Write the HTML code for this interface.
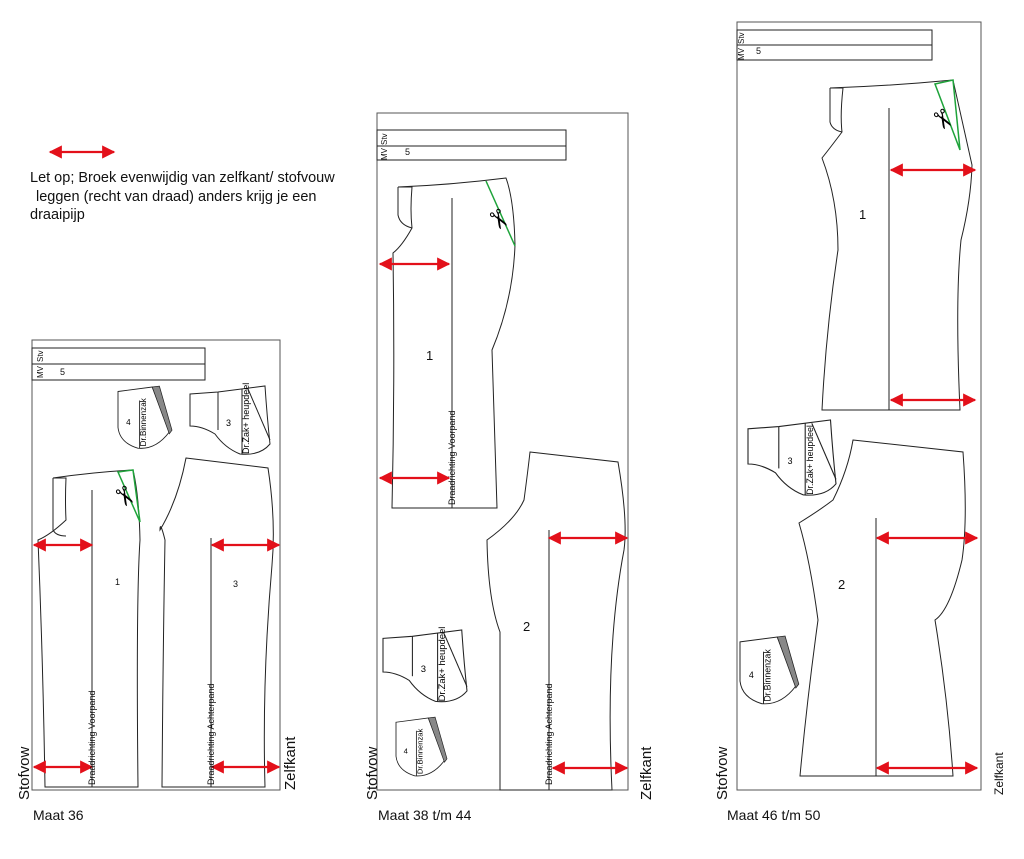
<!DOCTYPE html>
<html><head><meta charset="utf-8"><style>
html,body{margin:0;padding:0;background:#fff;}
svg{display:block;font-family:"Liberation Sans",sans-serif;}
</style></head><body>
<svg width="1024" height="859" viewBox="0 0 1024 859" xmlns="http://www.w3.org/2000/svg">
<defs>
<marker id="ah" viewBox="0 0 10 10" refX="9" refY="5" markerWidth="6" markerHeight="6" orient="auto-start-reverse"><path d="M0,0 L10,5 L0,10 Z" fill="#e3101a"/></marker>
</defs>
<line x1="50" y1="152" x2="114" y2="152" stroke="#e3101a" stroke-width="2.2" marker-start="url(#ah)" marker-end="url(#ah)"/>
<g font-size="14.5" fill="#111">
<text x="30" y="182">Let op; Broek evenwijdig van zelfkant/ stofvouw</text>
<text x="36" y="201">leggen (recht van draad) anders krijg je een</text>
<text x="30" y="219">draaipijp</text>
</g>

<!-- PANEL 1 -->
<g stroke="#222" stroke-width="1" fill="none">
<rect x="32" y="340" width="248" height="450" stroke="#555"/>
<rect x="32" y="348" width="173" height="16"/>
<rect x="32" y="364" width="173" height="16"/>
<path d="M53,478 L66,478 Q65,500 66,520 Q50,535 38,540 Q43,660 45,787 L138,787 Q136,600 140,540 Q139,495 133,470 Q95,472 53,478 Z"/>
<path d="M53,478 L53,530 Q56,536 66,536"/>
<line x1="92" y1="490" x2="92" y2="787"/>
<path d="M186,458 L268,468 Q276,520 272,565 Q262,680 265,787 L162,787 Q163,650 165,540 Q160,520 160,530 Q178,500 186,458 Z"/>
<line x1="211" y1="538" x2="211" y2="787"/>
</g>
<path d="M118,472 L133,470 L140,522 Z" fill="none" stroke="#1ea33a" stroke-width="1.5"/>
<text x="114" y="507" font-size="26" font-family="DejaVu Sans" transform="rotate(60 126 497)">✂</text>

<!-- PANEL 2 -->
<g stroke="#222" stroke-width="1" fill="none">
<rect x="377" y="113" width="251" height="677" stroke="#555"/>
<rect x="377" y="130" width="189" height="16"/>
<rect x="377" y="146" width="189" height="14"/>
<path d="M398,187 L412,187 Q410,210 412,228 Q402,246 393,253 Q395,380 392,508 L497,508 L492,350 Q513,300 515,245 Q514,200 506,178 Q450,185 398,187 Z"/>
<path d="M398,187 L398,215 Q400,225 412,228"/>
<line x1="452" y1="198" x2="452" y2="508"/>
<path d="M530,452 L618,462 Q628,520 624,550 Q605,650 612,790 L500,790 L500,632 Q488,600 487,540 Q515,520 524,500 Q528,470 530,452 Z"/>
<line x1="549" y1="530" x2="549" y2="790"/>
</g>
<line x1="486" y1="181" x2="515" y2="246" stroke="#1ea33a" stroke-width="1.5"/>
<text x="488" y="230" font-size="26" font-family="DejaVu Sans" transform="rotate(60 500 220)">✂</text>

<!-- PANEL 3 -->
<g stroke="#222" stroke-width="1" fill="none">
<rect x="737" y="22" width="244" height="768" stroke="#555"/>
<rect x="737" y="30" width="195" height="15"/>
<rect x="737" y="45" width="195" height="15"/>
<path d="M830,88 L843,88 Q840,115 842,132 Q830,148 822,158 Q838,200 838,250 Q826,330 822,410 L960,410 Q955,300 961,240 Q971,200 972,165 Q962,120 953,80 Q890,86 830,88 Z"/>
<path d="M830,88 L830,122 Q832,130 842,132"/>
<line x1="889" y1="108" x2="889" y2="410"/>
<path d="M853,440 L963,452 Q968,520 962,560 Q950,610 935,620 Q948,700 953,776 L800,776 Q807,700 818,620 Q810,560 799,523 Q820,510 833,500 Q848,470 853,440 Z"/>
<line x1="876" y1="518" x2="876" y2="776"/>
</g>
<path d="M935,84 L953,80 L960,150 Z" fill="none" stroke="#1ea33a" stroke-width="1.5"/>
<text x="932" y="130" font-size="26" font-family="DejaVu Sans" transform="rotate(60 944 120)">✂</text>

<!-- small pieces: 4 -->
<g transform="translate(118,387) scale(0.9)">
<path d="M0,5 L38,0 L57,50 Q42,70 22,68 Q2,62 0,45 Z" fill="#fff" stroke="#222"/>
<path d="M38,0 L46,-1 L60,48 L57,52 Z" fill="#888" stroke="#222" stroke-width="0.8"/>
<line x1="24" y1="15" x2="24" y2="68" stroke="#222"/>
<text x="9" y="42" font-size="9">4</text>
<text transform="translate(31,66) rotate(-90)" font-size="9">Dr.Binnenzak</text>
</g>
<g transform="translate(396,718) scale(0.85)">
<path d="M0,5 L38,0 L57,50 Q42,70 22,68 Q2,62 0,45 Z" fill="#fff" stroke="#222"/>
<path d="M38,0 L46,-1 L60,48 L57,52 Z" fill="#888" stroke="#222" stroke-width="0.8"/>
<line x1="24" y1="15" x2="24" y2="68" stroke="#222"/>
<text x="9" y="42" font-size="9">4</text>
<text transform="translate(31,66) rotate(-90)" font-size="9">Dr.Binnenzak</text>
</g>
<g transform="translate(740,637) scale(0.98)">
<path d="M0,5 L38,0 L57,50 Q42,70 22,68 Q2,62 0,45 Z" fill="#fff" stroke="#222"/>
<path d="M38,0 L46,-1 L60,48 L57,52 Z" fill="#888" stroke="#222" stroke-width="0.8"/>
<line x1="24" y1="15" x2="24" y2="68" stroke="#222"/>
<text x="9" y="42" font-size="9">4</text>
<text transform="translate(31,66) rotate(-90)" font-size="9">Dr.Binnenzak</text>
</g>
<!-- small pieces: 3 -->
<g transform="translate(190,386)">
<path d="M0,8 L28,6 L75,0 Q77,30 80,58 Q70,70 50,68 Q35,62 25,48 Q12,40 0,40 Z" fill="#fff" stroke="#222"/>
<line x1="28" y1="6" x2="28" y2="44" stroke="#222"/>
<line x1="58" y1="3" x2="80" y2="54" stroke="#222"/>
<line x1="52" y1="3" x2="52" y2="68" stroke="#222"/>
<text x="36" y="40" font-size="9">3</text>
<text transform="translate(59,68) rotate(-90)" font-size="9">Dr.Zak+ heupdeel</text>
</g>
<g transform="translate(383,630) scale(1.05)">
<path d="M0,8 L28,6 L75,0 Q77,30 80,58 Q70,70 50,68 Q35,62 25,48 Q12,40 0,40 Z" fill="#fff" stroke="#222"/>
<line x1="28" y1="6" x2="28" y2="44" stroke="#222"/>
<line x1="58" y1="3" x2="80" y2="54" stroke="#222"/>
<line x1="52" y1="3" x2="52" y2="68" stroke="#222"/>
<text x="36" y="40" font-size="9">3</text>
<text transform="translate(59,68) rotate(-90)" font-size="9">Dr.Zak+ heupdeel</text>
</g>
<g transform="translate(748,420) scale(1.1)">
<path d="M0,8 L28,6 L75,0 Q77,30 80,58 Q70,70 50,68 Q35,62 25,48 Q12,40 0,40 Z" fill="#fff" stroke="#222"/>
<line x1="28" y1="6" x2="28" y2="44" stroke="#222"/>
<line x1="58" y1="3" x2="80" y2="54" stroke="#222"/>
<line x1="52" y1="3" x2="52" y2="68" stroke="#222"/>
<text x="36" y="40" font-size="8">3</text>
<text transform="translate(59,68) rotate(-90)" font-size="8">Dr.Zak+ heupdeel</text>
</g>

<!-- arrows -->
<g stroke="#e3101a" stroke-width="2.2" marker-start="url(#ah)" marker-end="url(#ah)">
<line x1="34" y1="545" x2="92" y2="545"/>
<line x1="212" y1="545" x2="279" y2="545"/>
<line x1="34" y1="767" x2="92" y2="767"/>
<line x1="212" y1="767" x2="279" y2="767"/>
<line x1="380" y1="264" x2="449" y2="264"/>
<line x1="380" y1="478" x2="449" y2="478"/>
<line x1="549" y1="538" x2="627" y2="538"/>
<line x1="553" y1="768" x2="627" y2="768"/>
<line x1="891" y1="170" x2="975" y2="170"/>
<line x1="891" y1="400" x2="975" y2="400"/>
<line x1="877" y1="538" x2="977" y2="538"/>
<line x1="877" y1="768" x2="977" y2="768"/>
</g>

<!-- labels -->
<g fill="#111">
<text transform="translate(43,378) rotate(-90)" font-size="8">MV</text>
<text transform="translate(43,362) rotate(-90)" font-size="8">Stv</text>
<text x="60" y="375" font-size="9">5</text>
<text transform="translate(387,160) rotate(-90)" font-size="8">MV</text>
<text transform="translate(387,145) rotate(-90)" font-size="8">Stv</text>
<text x="405" y="155" font-size="9">5</text>
<text transform="translate(744,60) rotate(-90)" font-size="8">MV</text>
<text transform="translate(744,44) rotate(-90)" font-size="8">Stv</text>
<text x="756" y="54" font-size="9">5</text>
<text x="115" y="585" font-size="9">1</text>
<text x="233" y="587" font-size="9">3</text>
<text x="426" y="360" font-size="13">1</text>
<text x="523" y="631" font-size="13">2</text>
<text x="859" y="219" font-size="13">1</text>
<text x="838" y="589" font-size="13">2</text>
<text transform="translate(95,785) rotate(-90)" font-size="9">Draadrichting Voorpand</text>
<text transform="translate(214,785) rotate(-90)" font-size="9">Draadrichting Achterpand</text>
<text transform="translate(455,505) rotate(-90)" font-size="9">Draadrichting Voorpand</text>
<text transform="translate(552,785) rotate(-90)" font-size="9">Draadrichting Achterpand</text>
<text transform="translate(29,800) rotate(-90)" font-size="15">Stofvow</text>
<text transform="translate(295,790) rotate(-90)" font-size="15">Zelfkant</text>
<text transform="translate(377,800) rotate(-90)" font-size="15">Stofvow</text>
<text transform="translate(651,800) rotate(-90)" font-size="15">Zelfkant</text>
<text transform="translate(727,800) rotate(-90)" font-size="15">Stofvow</text>
<text transform="translate(1003,795) rotate(-90)" font-size="12">Zelfkant</text>
<text x="33" y="820" font-size="14">Maat 36</text>
<text x="378" y="820" font-size="14">Maat 38 t/m 44</text>
<text x="727" y="820" font-size="14">Maat 46 t/m 50</text>
</g>
</svg>
</body></html>
